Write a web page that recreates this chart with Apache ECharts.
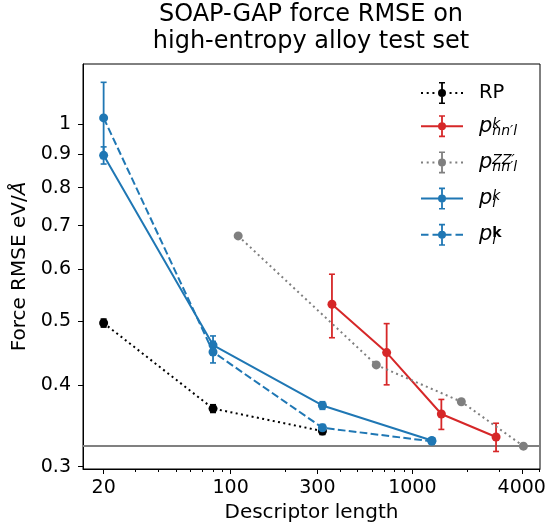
<!DOCTYPE html>
<html>
<head>
<meta charset="utf-8">
<script src="https://cdn.jsdelivr.net/npm/echarts@6/dist/echarts.min.js"></script>
<style>
  html, body { margin: 0; padding: 0; background: #fff; }
  #chart { width: 551px; height: 527px; }
</style>
</head>
<body>
<div id="chart"></div>
<script>
// descriptor length / force RMSE (eV/A) / error bar half-width
var rpX = [20, 80, 320];
var rpY = [0.497, 0.368, 0.340];
var rpErr = [0.007, 0.005, 0.004];

var nnlX = [361, 722, 1444, 2888];
var nnlY = [0.531, 0.448, 0.361, 0.333];
var nnlErr = [0.059, 0.048, 0.019, 0.0165];

var zzX = [110, 633, 1860, 4086];
var zzY = [0.675, 0.429, 0.377, 0.3225];

var lX = [20, 80, 320, 1280];
var lY = [0.896, 0.460, 0.372, 0.329];
var lErr = [0.027, 0.015, 0.005, 0.003];

var lbX = [20, 80, 320, 1280];
var lbY = [1.022, 0.449, 0.344, 0.328];
var lbErr = [0.136, 0.017, 0.004, 0.003];

var baselineRmse = 0.3225;

var xTicks = [20, 100, 300, 1000, 4000];
var xMinorTicks = [30, 40, 50, 60, 70, 80, 90, 200, 400, 500, 600, 700, 800, 900, 2000, 3000, 5000];
var yTicks = [0.3, 0.4, 0.5, 0.6, 0.7, 0.8, 0.9, 1];

var FONT = 'DejaVu Sans';
var BLACK = '#000000', RED = '#d62728', GREY = '#7f7f7f', BLUE = '#1f77b4';
var DOTTED = [2, 3.4], DASHED = [7.7, 3.3];

var chart = echarts.init(document.getElementById('chart'));

function pairs(xs, ys) {
  return xs.map(function (x, i) { return [x, ys[i]]; });
}

function lineSeries(name, xs, ys, color, dash) {
  return {
    type: 'line', name: name, data: pairs(xs, ys),
    symbol: 'circle', symbolSize: 9, silent: true, z: 4,
    itemStyle: { color: color },
    lineStyle: { color: color, width: 2, type: dash || 'solid' },
    emphasis: { disabled: true }
  };
}

function errSeries(name, xs, ys, errs, color) {
  return {
    type: 'custom', name: name, silent: true, z: 3,
    encode: { x: 0, y: [1, 2] },
    data: xs.map(function (x, i) { return [x, ys[i] - errs[i], ys[i] + errs[i]]; }),
    renderItem: function (params, api) {
      var hi = api.coord([api.value(0), api.value(2)]);
      var lo = api.coord([api.value(0), api.value(1)]);
      var c = 3;
      return {
        type: 'group',
        children: [
          { type: 'line', shape: { x1: hi[0], y1: hi[1], x2: lo[0], y2: lo[1] }, style: { stroke: color, lineWidth: 1.8 } },
          { type: 'line', shape: { x1: hi[0] - c, y1: hi[1], x2: hi[0] + c, y2: hi[1] }, style: { stroke: color, lineWidth: 1.6 } },
          { type: 'line', shape: { x1: lo[0] - c, y1: lo[1], x2: lo[0] + c, y2: lo[1] }, style: { stroke: color, lineWidth: 1.6 } }
        ]
      };
    }
  };
}

// legend handle: line + marker + error bar, in a 42x22 box
function legendIcon(dash, n) {
  var r = function (x0, y0, x1, y1) { return 'M' + x0 + ' ' + y0 + 'H' + x1 + 'V' + y1 + 'H' + x0 + 'Z'; };
  var d = '';
  if (!dash) {
    d += r(0, 10, 42, 12);
  } else {
    var gap = (42 - n * dash) / (n - 1);
    for (var i = 0; i < n; i++) {
      var x = i * (dash + gap);
      d += r(x.toFixed(2), 10, (x + dash).toFixed(2), 12);
    }
  }
  d += r(20.1, 0, 21.9, 22);
  d += r(18, 0, 24, 1.6) + r(18, 20.4, 24, 22);
  d += 'M25 11A4 4 0 1 1 17 11A4 4 0 1 1 25 11Z';
  return 'path://' + d;
}

var legendLabels = {
  'RP': '{rp|RP}',
  'p_nnl_k': '{p|p}{sup|k}{sub|nn′l}',
  'p_nnl_zz': '{p|p}{sup|ZZ′}{sub|nn′l}',
  'p_l_k': '{p|p}{sup|k}{sub|l}',
  'p_l_bk': '{p|p}{supb|k}{sub|l}'
};

var legendText = {
  fontFamily: FONT, color: '#000', padding: [0, 0, 0, 11],
  rich: {
    rp: { fontFamily: FONT, fontSize: 19.5, lineHeight: 22, color: '#000' },
    p: { fontFamily: FONT, fontStyle: 'italic', fontSize: 21, lineHeight: 29.4, color: '#000' },
    sup: { fontFamily: FONT, fontStyle: 'italic', fontSize: 14, lineHeight: 16, width: 0.01, padding: [0, 0, 3.6, 0], color: '#000' },
    supb: { fontFamily: FONT, fontWeight: 'bold', fontSize: 14, lineHeight: 16, width: 0.01, padding: [0, 0, 3.6, 0], color: '#000' },
    sub: { fontFamily: FONT, fontStyle: 'italic', fontSize: 14, lineHeight: 16, padding: [10.4, 0, 0, 0], color: '#000' }
  }
};

function legendBlock(top, gap, items) {
  return {
    orient: 'vertical', left: 421, top: top, padding: 0,
    itemWidth: 42, itemHeight: 22, itemGap: gap,
    selectedMode: false,
    itemStyle: { borderWidth: 0 },
    data: items,
    formatter: function (name) { return legendLabels[name]; },
    textStyle: legendText
  };
}

var option = {
  animation: false,
  backgroundColor: '#ffffff',
  title: {
    text: 'SOAP-GAP force RMSE on\nhigh-entropy alloy test set',
    left: 311, top: 1, textAlign: 'center', padding: 0,
    textStyle: { fontFamily: FONT, fontSize: 24, fontWeight: 'normal', color: '#000', lineHeight: 27 }
  },
  legend: [
    legendBlock(82, 0, [{ name: 'RP', icon: legendIcon(2, 8) }]),
    legendBlock(114, 11.8, [
      { name: 'p_nnl_k', icon: legendIcon(null) },
      { name: 'p_nnl_zz', icon: legendIcon(2, 8) },
      { name: 'p_l_k', icon: legendIcon(null) },
      { name: 'p_l_bk', icon: legendIcon(7.5, 4) }
    ])
  ],
  grid: {
    left: 83, right: 11, top: 64, bottom: 58,
    show: true, borderColor: '#000', borderWidth: 1,
    outerBoundsMode: 'none'
  },
  xAxis: [{
    type: 'log', logBase: 10, min: 15.4, max: 5040,
    name: 'Descriptor length', nameLocation: 'middle', nameGap: 34,
    nameTextStyle: { fontFamily: FONT, fontSize: 20, color: '#000' },
    axisLine: { show: true, lineStyle: { color: '#000', width: 1 } },
    axisTick: { show: true, length: 5, customValues: xTicks, lineStyle: { color: '#000', width: 1 } },
    axisLabel: {
      customValues: xTicks, margin: 10, fontFamily: FONT, fontSize: 19, color: '#000',
      formatter: function (v) { return String(Math.round(v)); }
    },
    splitLine: { show: false }, minorTick: { show: false }
  }, {
    type: 'log', logBase: 10, min: 15.4, max: 5040,
    position: 'top', offset: -405,
    axisLine: { show: false },
    axisTick: { show: true, inside: true, length: 3, customValues: xMinorTicks, lineStyle: { color: '#000', width: 1 } },
    axisLabel: { show: false },
    splitLine: { show: false }
  }],
  yAxis: {
    type: 'log', logBase: 10, min: 0.2976, max: 1.235,
    name: 'Force RMSE eV/{it|Å}', nameLocation: 'middle', nameGap: 46,
    nameTextStyle: {
      fontFamily: FONT, fontSize: 20, color: '#000',
      rich: { it: { fontFamily: FONT, fontSize: 20, fontStyle: 'italic', color: '#000' } }
    },
    axisLine: { show: true, lineStyle: { color: '#000', width: 1 } },
    axisTick: { show: true, length: 5, customValues: yTicks, lineStyle: { color: '#000', width: 1 } },
    axisLabel: {
      customValues: yTicks, margin: 12, fontFamily: FONT, fontSize: 19, color: '#000',
      formatter: function (v) { return String(parseFloat((+v).toFixed(2))); }
    },
    splitLine: { show: false }
  },
  series: [
    Object.assign(lineSeries('RP', rpX, rpY, BLACK, DOTTED), {
      markLine: {
        silent: true, symbol: 'none', label: { show: false }, z: 2, precision: 5,
        lineStyle: { color: '#808080', width: 2, type: 'solid' },
        emphasis: { disabled: true },
        data: [{ yAxis: baselineRmse }]
      }
    }),
    errSeries('RP err', rpX, rpY, rpErr, BLACK),
    lineSeries('p_nnl_k', nnlX, nnlY, RED),
    errSeries('p_nnl_k err', nnlX, nnlY, nnlErr, RED),
    lineSeries('p_nnl_zz', zzX, zzY, GREY, DOTTED),
    lineSeries('p_l_k', lX, lY, BLUE),
    errSeries('p_l_k err', lX, lY, lErr, BLUE),
    lineSeries('p_l_bk', lbX, lbY, BLUE, DASHED),
    errSeries('p_l_bk err', lbX, lbY, lbErr, BLUE)
  ]
};

chart.setOption(option);
</script>
</body>
</html>
